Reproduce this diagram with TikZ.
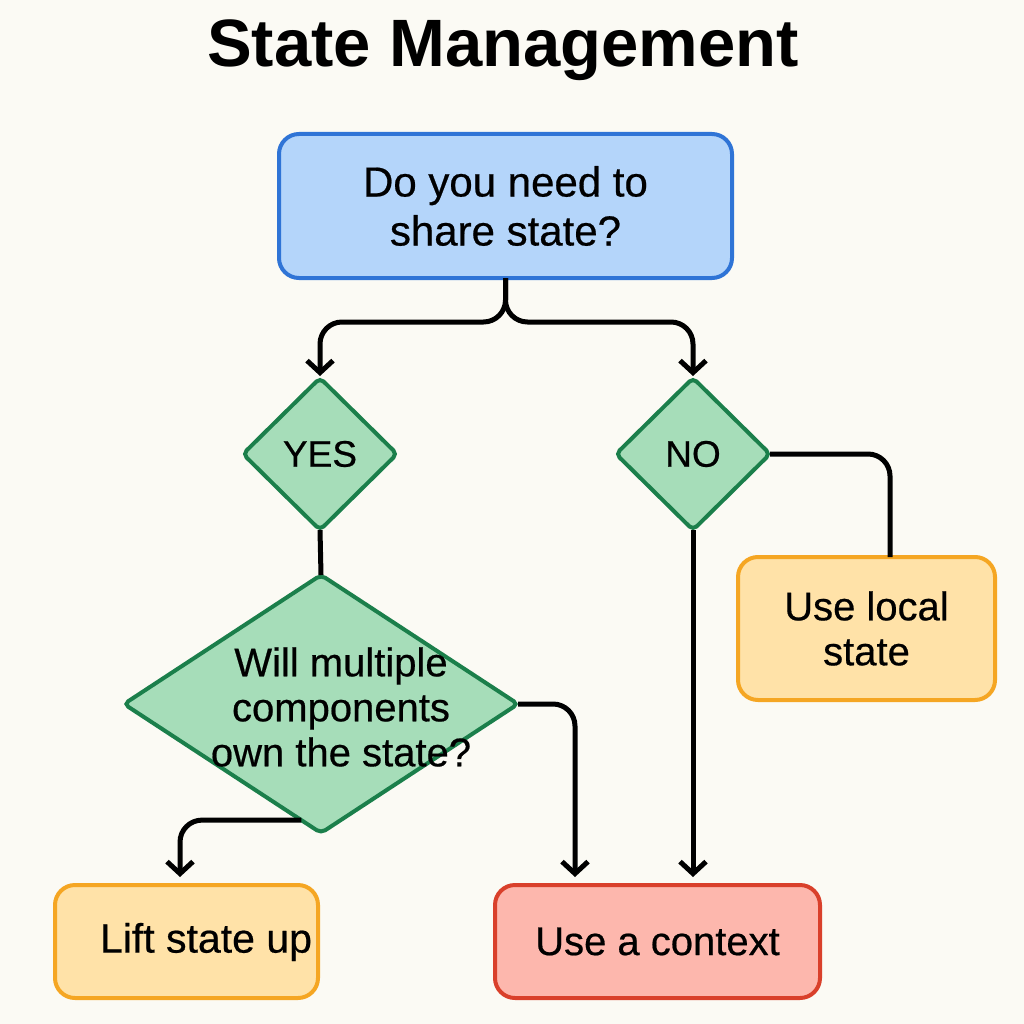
\documentclass[tikz,border=0pt]{standalone}
\usepackage{fontspec}
\setmainfont{Liberation Sans}[FakeBold=0.5]
\newfontfamily\titlefont{Liberation Sans Bold}
\usetikzlibrary{shapes.geometric,arrows.meta,calc}
\definecolor{bg}{RGB}{251,250,244}
\definecolor{bluefill}{RGB}{180,213,250}
\definecolor{blueline}{RGB}{47,116,214}
\definecolor{greenfill}{RGB}{166,221,185}
\definecolor{greenline}{RGB}{27,127,75}
\definecolor{orangefill}{RGB}{255,226,168}
\definecolor{orangeline}{RGB}{245,166,35}
\definecolor{redfill}{RGB}{253,183,173}
\definecolor{redline}{RGB}{217,64,43}
\tikzset{
  boxbase/.style={draw, rectangle, rounded corners=20pt, line width=4pt, inner sep=0pt, outer sep=0pt, align=center, text=black},
  bluebox/.style={boxbase, fill=bluefill, draw=blueline},
  orangebox/.style={boxbase, fill=orangefill, draw=orangeline},
  redbox/.style={boxbase, fill=redfill, draw=redline},
  dia/.style={draw=greenline, fill=greenfill, shape=diamond, line width=4pt, inner sep=0pt, outer sep=0pt, rounded corners=5pt},
  txt/.style={align=center, text=black, font=\fontsize{40}{45}\selectfont},
  conn/.style={draw=black, line width=5pt, rounded corners=22pt},
  arr/.style={conn, -{Straight Barb[length=12pt,width=26pt]}, shorten >=8pt},
}
\begin{document}
\begin{tikzpicture}[x=1pt,y=-1pt]
\fill[bg] (0,0) rectangle (1024,1024);
\useasboundingbox (0,0) rectangle (1024,1024);

\node[font=\fontsize{67}{70}\selectfont\titlefont] (title) at (503,50) {State Management};

\node[bluebox, minimum width=453pt, minimum height=144pt, font=\fontsize{42}{49}\selectfont] (q1) at (505.5,206) {Do you need to\\share state?};

\node[dia, minimum width=154pt, minimum height=152pt] (yes) at (320,454) {};
\node[txt, font=\fontsize{37}{40}\selectfont] (yest) at (yes) {YES};
\node[dia, minimum width=154pt, minimum height=152pt] (no) at (693,454) {};
\node[txt, font=\fontsize{37}{40}\selectfont] (not) at (no) {NO};

\node[dia, minimum width=394pt, minimum height=258pt] (q2) at (321,704) {};
\node[txt] (q2t) at (341,707) {Will multiple\\components\\own the state?};

\node[orangebox, minimum width=257pt, minimum height=143pt, txt] (local) at (866.5,628.5) {Use local\\state};
\node[orangebox, minimum width=263pt, minimum height=113pt] (lift) at (186.5,941.5) {};
\node[txt, font=\fontsize{41}{45}\selectfont] (liftt) at (206,942) {Lift state up};
\node[redbox, minimum width=325pt, minimum height=113pt, txt] (ctx) at (657.5,941.5) {Use a context};

% top split
\draw[arr] (q1.south) -- ++(0,44) -| ([yshift=-6pt]yes.north);
\draw[arr] (q1.south) -- ++(0,44) -| ([yshift=-6pt]no.north);
% yes to question
\draw[conn] (yes.south) -- (q2.north);
% no to local state
\draw[conn] (no.east) -| ([xshift=23.5pt]local.north);
% no to context
\draw[arr] (no.south) -- (no.south |- ctx.north);
% question right to context
\draw[arr] (q2.east) -| ([xshift=-82.5pt]ctx.north);
% question lower left to lift
\coordinate (q2ll) at ($(q2.south)!0.1!(q2.west)$);
\draw[arr] (q2ll) -| ([xshift=-6.5pt]lift.north);
\end{tikzpicture}
\end{document}
